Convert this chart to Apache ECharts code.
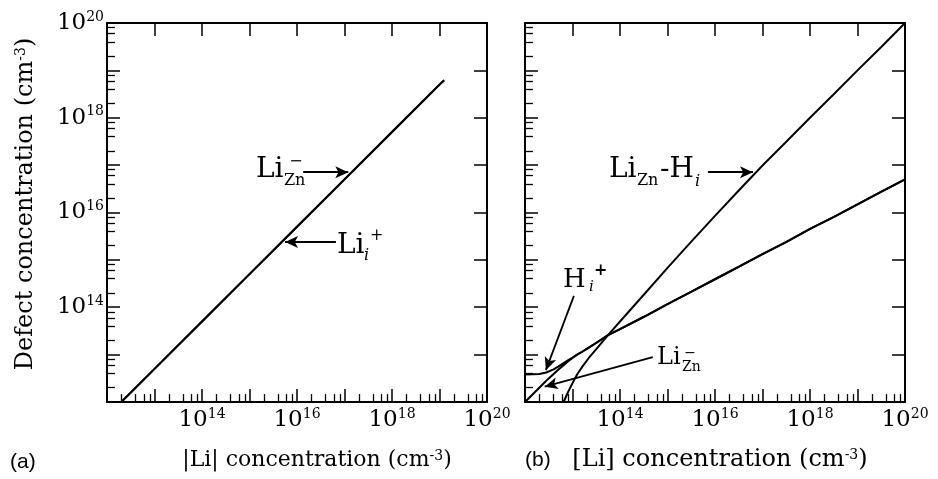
<!DOCTYPE html>
<html><head><meta charset="utf-8">
<script src="https://cdn.jsdelivr.net/npm/echarts@6/dist/echarts.min.js"></script>
<style>html,body{margin:0;padding:0;background:#fff}#c{width:938px;height:479px}</style>
</head><body><div id="c"></div>
<script>
// ---------- data ----------
// panel (a)
const liA   = [1e12, 1e13, 1e14, 1e15, 1e16, 1e17, 1e18, 1e19, 1.25e19];
const liZnA = [5e11, 5e12, 5e13, 5e14, 5e15, 5e16, 5e17, 5e18, 6.2e18];
const liIA  = [5e11, 5e12, 5e13, 5e14, 5e15, 5e16, 5e17, 5e18, 6.2e18];
// panel (b)
const liB   = [1e12, 2e12, 2.8e12, 4e12, 5e12, 6.5e12, 8e12, 1e13, 1.25e13, 1.6e13, 2.2e13, 3.2e13, 5.6e13,
               1e14, 3.2e14, 1e15, 3.2e15, 1e16, 3.2e16, 1e17, 3.2e17, 1e18, 3.2e18, 1e19, 3.2e19, 1e20];
const hIB   = [3.8e12, 3.9e12, 4.2e12, 4.9e12, 5.6e12, 6.6e12, 7.6e12, 8.7e12, 1.0e13, 1.15e13, 1.41e13, 1.78e13, 2.57e13,
               3.47e13, 6.3e13, 1.17e14, 2.14e14, 3.9e14, 7.2e14, 1.32e15, 2.4e15, 4.5e15, 8.1e15, 1.48e16, 2.75e16, 5.0e16];
const liZnB = [1e12, 2e12, 2.8e12, 3.9e12, 4.8e12, 6.0e12, 7.2e12, 8.5e12, 1.0e13, 1.15e13, 1.41e13, 1.78e13, 2.57e13,
               3.47e13, 6.3e13, 1.17e14, 2.14e14, 3.9e14, 7.2e14, 1.32e15, 2.4e15, 4.5e15, 8.1e15, 1.48e16, 2.75e16, 5.0e16];
const liZnHB = [null, null, null, null, null, 1.0e12, 1.6e12, 2.5e12, 3.8e12, 5.5e12, 8.5e12, 1.32e13, 2.57e13,
               5.0e13, 1.86e14, 6.8e14, 2.45e15, 8.5e15, 2.95e16, 9.8e16, 3.15e17, 1e18, 3.16e18, 1e19, 3.16e19, 1e20];
// tick labels (exponents of 10 that carry a label)
const xLabelExps = [14, 16, 18, 20];
const yLabelExps = [14, 16, 18, 20];
const minorMults = [2, 4, 6, 8];

// ---------- helpers ----------
const SERIF = "'DejaVu Serif', serif";
const SANS = "'Liberation Sans', Arial, sans-serif";
const AX_MIN = 1e12, AX_MAX = 1e20;
const minorVals = [];
for (let e = 12; e < 20; e++) for (const m of minorMults) minorVals.push(m * Math.pow(10, e));

const pairs = (xs, ys) => xs.map((x, i) => [x, ys[i] == null ? null : ys[i]]);
const labelFmt = exps => v => {
  const e = Math.round(Math.log10(v));
  return exps.indexOf(e) >= 0 ? '{b|10}{s|' + e + '}' : '';
};
const richTick = {
  b: { fontFamily: SERIF, fontSize: 23, color: '#000', lineHeight: 26 },
  s: { fontFamily: SERIF, fontSize: 14, color: '#000', lineHeight: 15, verticalAlign: 'top' }
};
function axis(gi, pos, labels, exps) {
  return {
    type: 'log', logBase: 10, min: AX_MIN, max: AX_MAX, gridIndex: gi, position: pos,
    axisLine: { show: true, onZero: false, lineStyle: { color: '#000', width: 2 } },
    axisTick: { show: true, inside: true, length: 13, lineStyle: { color: '#000', width: 1.5 } },
    splitLine: { show: false }, minorTick: { show: false },
    axisLabel: labels ? { show: true, margin: (pos === 'left' ? 3 : 5), formatter: labelFmt(exps), rich: richTick, color: '#000' } : { show: false }
  };
}
const lineStyle = { color: '#000', width: 2 };
function curve(name, xi, yi, data, extra) {
  return Object.assign({
    name, type: 'line', xAxisIndex: xi, yAxisIndex: yi, data, symbol: 'none', showSymbol: false,
    lineStyle, itemStyle: { color: '#000' }, connectNulls: false, z: 3, animation: false
  }, extra || {});
}
function arrows(list) {
  return {
    silent: true, animation: false, symbol: ['none', 'arrow'], symbolSize: [9, 13],
    lineStyle: { color: '#000', width: 1.8, type: 'solid' }, label: { show: false },
    itemStyle: { color: '#000' },
    data: list.map(a => [{ coord: a[0] }, { coord: a[1] }])
  };
}
// short minor-tick segments along the bottom and left frame, in axis units (log axes)
const TICK_BASE = 1.01e12, TICK_TOP = 1.47e12;
function minorTickMarks() {
  const segs = [];
  minorVals.forEach(v => {
    segs.push([{ coord: [v, TICK_BASE] }, { coord: [v, TICK_TOP] }]);
    segs.push([{ coord: [TICK_BASE, v] }, { coord: [TICK_TOP, v] }]);
  });
  return {
    silent: true, animation: false, symbol: ['none', 'none'], precision: 20,
    lineStyle: { color: '#000', width: 1.3, type: 'solid' }, label: { show: false },
    emphasis: { disabled: true }, data: segs
  };
}
function txt(x, y, text, size, extra) {
  return {
    type: 'text', x, y, silent: true,
    style: Object.assign({ text, fill: '#000', fontFamily: SERIF, fontSize: size, align: 'left', verticalAlign: 'middle' }, extra || {})
  };
}
const richSup = { s: { fontFamily: SERIF, fontSize: 14, verticalAlign: 'top', lineHeight: 14, fill: '#000' } };

const textGraphics = [
  // axis titles
  { type: 'text', x: 26, y: 204, rotation: Math.PI / 2, silent: true,
    style: { text: 'Defect concentration (cm{s|-3})', fill: '#000', fontFamily: SERIF, fontSize: 24, align: 'center', verticalAlign: 'middle', rich: richSup } },
  { type: 'text', x: 317, y: 460, silent: true,
    style: { text: '|Li| concentration (cm{s|-3})', fill: '#000', fontFamily: SERIF, fontSize: 22, align: 'center', verticalAlign: 'middle', rich: richSup } },
  { type: 'text', x: 720, y: 460, silent: true,
    style: { text: '[Li] concentration (cm{s|-3})', fill: '#000', fontFamily: SERIF, fontSize: 24, align: 'center', verticalAlign: 'middle', rich: richSup } },
  txt(10, 462, '(a)', 21, { fontFamily: SANS }),
  txt(525, 460, '(b)', 21, { fontFamily: SANS }),
  // panel (a) annotations
  txt(256, 170, 'Li', 28), txt(284, 181, 'Zn', 16), txt(296, 162, '\u2212', 16, { align: 'center' }),
  txt(337, 246, 'Li', 28), txt(364, 256, 'i', 16, { fontStyle: 'italic' }), txt(370, 236, '+', 16),
  // panel (b) annotations
  txt(609, 170, 'Li', 28), txt(637, 181, 'Zn', 16), txt(660, 170, '-H', 28), txt(695, 182, 'i', 16, { fontStyle: 'italic' }),
  txt(563, 280, 'H', 26), txt(589, 287, 'i', 15, { fontStyle: 'italic' }), txt(594, 271, '+', 16, { fontWeight: 'bold' }),
  txt(657, 358, 'Li', 24), txt(682, 367, 'Zn', 14), txt(690, 353, '\u2212', 14, { align: 'center' })
];

const option = {
  animation: false,
  backgroundColor: '#fff',
  grid: [
    { left: 107, top: 23, width: 380, height: 379, outerBoundsMode: 'none', containLabel: false },
    { left: 525, top: 23, width: 380, height: 379, outerBoundsMode: 'none', containLabel: false }
  ],
  xAxis: [axis(0, 'bottom', true, xLabelExps), axis(0, 'top', false), axis(1, 'bottom', true, xLabelExps), axis(1, 'top', false)],
  yAxis: [axis(0, 'left', true, yLabelExps), axis(0, 'right', false), axis(1, 'left', false), axis(1, 'right', false)],
  series: [
    curve('Li_Zn^- (a)', 0, 0, pairs(liA, liZnA), {
      markLine: arrows([[[1.35e16, 7.1e16], [1.2e17, 7.1e16]], [[6.6e16, 2.38e15], [5.6e15, 2.38e15]]])
    }),
    curve('Li_i^+ (a)', 0, 0, pairs(liA, liIA), { markLine: minorTickMarks() }),
    curve('H_i^+ (b)', 2, 2, pairs(liB, hIB), {
      markLine: arrows([[[7.1e15, 7.1e16], [6.3e16, 7.1e16]], [[1.07e13, 1.74e14], [2.75e12, 4.7e12]], [[4.9e14, 8.9e12], [2.6e12, 2.1e12]]])
    }),
    curve('Li_Zn^- (b)', 2, 2, pairs(liB, liZnB), { markLine: minorTickMarks() }),
    curve('Li_Zn-H_i (b)', 2, 2, pairs(liB, liZnHB))
  ],
  graphic: textGraphics
};
const chart = echarts.init(document.getElementById('c'), null, { renderer: 'canvas' });
chart.setOption(option);
</script>
</body></html>
